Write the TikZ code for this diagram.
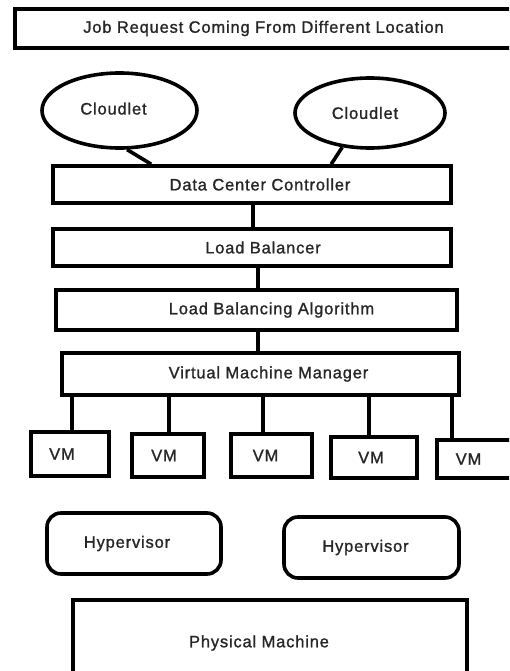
\documentclass[tikz,border=0pt]{standalone}
\usepackage{fontspec}
\setmainfont[LetterSpace=5,FakeBold=1.2]{Liberation Sans}
\usetikzlibrary{shapes.geometric}
\begin{document}
\begin{tikzpicture}[x=1pt,y=-1pt,
  every node/.style={font=\fontsize{16.5}{19}\selectfont, text=black!85},
  box/.style={draw, line width=3.6pt, rectangle, inner sep=0pt},
  cloud/.style={draw, line width=3.6pt, ellipse, inner sep=0pt},
  hyp/.style={draw, line width=3.6pt, rectangle, rounded corners=14pt, inner sep=0pt},
  conn/.style={line width=3.6pt},
  tsh/.style={execute at begin node={\hspace*{#1}\hspace*{#1}}}]
\useasboundingbox (0,0) rectangle (509,671);
\clip (0,0) rectangle (509,671);
% top box
\node[box, minimum width=499pt, minimum height=39pt, tsh=-1pt] (job) at (264.5,28.5) {Job Request Coming From Different Location};
% cloudlets
\node[cloud, minimum width=155pt, minimum height=75pt, tsh=-6pt] (c1) at (119.5,110.5) {\raisebox{4pt}{Cloudlet}};
\node[cloud, minimum width=150pt, minimum height=70pt, tsh=-5pt] (c2) at (370,113) {Cloudlet};
% main boxes
\node[box, minimum width=398pt, minimum height=37pt, tsh=8pt] (dcc) at (252,184.5) {Data Center Controller};
\node[box, minimum width=398pt, minimum height=37pt, tsh=11pt] (lb) at (252,247.5) {Load Balancer};
\node[box, minimum width=401pt, minimum height=40pt, tsh=15pt] (lba) at (256.5,310) {Load Balancing Algorithm};
\node[box, minimum width=397pt, minimum height=42pt, tsh=8pt] (vmm) at (260.5,374) {Virtual Machine Manager};
% VMs
\node[box, minimum width=78pt, minimum height=44pt, tsh=-8pt] (vm1) at (70,454) {VM};
\node[box, minimum width=72pt, minimum height=43pt, tsh=-4pt] (vm2) at (168,455.5) {VM};
\node[box, minimum width=81pt, minimum height=43pt, tsh=-6pt] (vm3) at (271.5,455.5) {VM};
\node[box, minimum width=86pt, minimum height=41pt, tsh=-3pt] (vm4) at (374,457.5) {VM};
\node[box, minimum width=77pt, minimum height=38pt, tsh=-7pt] (vm5) at (475.5,459) {VM};
% hypervisors
\node[hyp, minimum width=174pt, minimum height=61pt, tsh=-7pt] (h1) at (134,543.5) {Hypervisor};
\node[hyp, minimum width=175pt, minimum height=61pt, tsh=-6pt] (h2) at (371.5,547.5) {Hypervisor};
% physical machine
\node[box, minimum width=394pt, minimum height=86pt, tsh=-11pt] (pm) at (270,643) {Physical Machine};
% connectors
\draw[conn] (c1.-79) -- ([xshift=100pt]dcc.north west);
\draw[conn] (c2.-129) -- ([xshift=280pt]dcc.north west);
\draw[conn] ([xshift=1pt]dcc.south) -- ([xshift=1pt]lb.north);
\draw[conn] ([xshift=6pt]lb.south) -- ([xshift=6pt]lb.south |- lba.north);
\draw[conn] ([xshift=1.5pt]lba.south) -- ([xshift=1.5pt]lba.south |- vmm.north);
\draw[conn] ([xshift=2pt]vm1.north) -- ([xshift=2pt]vm1.north |- vmm.south);
\draw[conn] ([xshift=1pt]vm2.north) -- ([xshift=1pt]vm2.north |- vmm.south);
\draw[conn] ([xshift=-8.5pt]vm3.north) -- ([xshift=-8.5pt]vm3.north |- vmm.south);
\draw[conn] ([xshift=-5pt]vm4.north) -- ([xshift=-5pt]vm4.north |- vmm.south);
\draw[conn] ([xshift=-23.5pt]vm5.north) -- ([xshift=-23.5pt]vm5.north |- vmm.south);
\end{tikzpicture}
\end{document}
